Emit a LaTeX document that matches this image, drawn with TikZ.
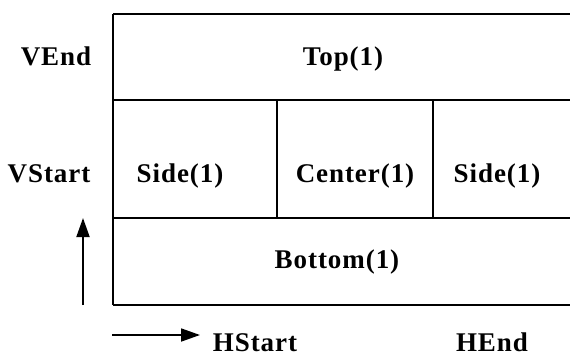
\documentclass[tikz,border=0pt]{standalone}
\usepackage{fontspec}
\setmainfont{Liberation Serif}[LetterSpace=3.5]
\usetikzlibrary{arrows.meta}
\begin{document}
\begin{tikzpicture}[x=1pt,y=-1pt,line join=round,
		grid/.style={line width=2.4pt,black},
		lbl/.style={anchor=base,inner sep=0pt,font=\fontsize{27}{30}\selectfont\bfseries},
		axis/.style={line width=1.8pt,-{Triangle[length=19pt,width=13pt]}}]
			\useasboundingbox (0,0) rectangle (570,356);
			\coordinate (A) at (113,14);
			\coordinate (F) at (570,14);
			\coordinate (A-1) at (113,100);
			\coordinate (B-1) at (277,100);
			\coordinate (C-1) at (433,100);
			\coordinate (F-1) at (570,100);
			\coordinate (A-2) at (113,218);
			\coordinate (B-2) at (277,218);
			\coordinate (C-2) at (433,218);
			\coordinate (F-2) at (570,218);
			\coordinate (A-3) at (113,305);
			\coordinate (F-3) at (570,305);
			\coordinate (V-0) at (83,305);
			\coordinate (V-1) at (83,218);
			\coordinate (H-0) at (112,335);
			\coordinate (H-1) at (200,335);
			\draw[grid] (A)--(F);
			\draw[grid] (A-1)--(F-1);
			\draw[grid] (A-2)--(F-2);
			\draw[grid] (A-3)--(F-3);
			\draw[grid] (A)--(A-3);
			\draw[grid] (B-1)--(B-2);
			\draw[grid] (C-1)--(C-2);
			\draw[axis] (V-0)--(V-1);
			\draw[axis] (H-0)--(H-1);
			\node[lbl] (vend) at (56,65) {VEnd};
			\node[lbl] (vstart) at (49,182) {VStart};
			\node[lbl] (top) at (343,65) {Top(1)};
			\node[lbl] (sidel) at (180,182) {Side(1)};
			\node[lbl] (center) at (355,182) {Center(1)};
			\node[lbl] (sider) at (497,182) {Side(1)};
			\node[lbl] (bottom) at (337,268) {Bottom(1)};
			\node[lbl] (hstart) at (255,351) {HStart};
			\node[lbl] (hend) at (492,351) {HEnd};
		\end{tikzpicture}
\end{document}
